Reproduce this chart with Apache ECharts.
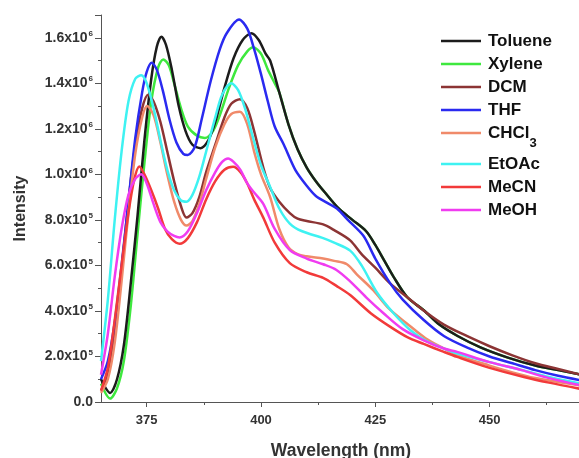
<!DOCTYPE html>
<html>
<head>
<meta charset="utf-8">
<script src="https://cdn.jsdelivr.net/npm/echarts@6/dist/echarts.min.js"></script>
<style>
  html, body { margin: 0; padding: 0; background: #fff; }
  #chart { width: 579px; height: 458px; }
</style>
</head>
<body>
<div id="chart"></div>
<script>
// intensity values are in units of 1e5, pairs are [wavelength nm, intensity]
const toluene = [
    [365, 1.0], [367, 0.4], [368.5, 1.0], [370, 2.5], [371.5, 5.2], [373, 8.2], [374.5, 11.5],
    [376, 14.2], [377.2, 15.6], [378.2, 16.05], [379.2, 15.7], [380.5, 14.6], [382, 13.0],
    [383.5, 11.9], [385, 11.3], [386.8, 11.15], [388.5, 11.5], [390, 12.3], [392, 13.8],
    [394, 15.1], [396, 15.9], [397.9, 16.2], [399.5, 15.9], [401, 15.3], [402, 15.0],
    [404, 13.6], [406, 12.2], [408, 11.1], [410, 10.3], [412, 9.7], [414, 9.2], [417, 8.5],
    [420, 8.0], [423, 7.5], [425, 6.9], [427, 6.2], [429, 5.5], [432, 4.6], [435.6, 4.03],
    [439, 3.4], [443, 2.9], [448, 2.4], [454, 1.95], [460, 1.6], [465, 1.4], [470, 1.2]
];
const xylene = [
    [365, 0.8], [367, 0.15], [368.5, 0.6], [370, 1.8], [371.5, 4.2], [373, 7.4], [374.5, 10.5],
    [376, 13.2], [377.5, 14.7], [378.6, 15.05], [379.8, 14.8], [381, 14.0], [382.5, 12.9],
    [384, 12.1], [386, 11.7], [387.7, 11.6], [389.5, 11.9], [391, 12.6], [393, 13.8],
    [395, 14.8], [397, 15.4], [398.3, 15.58], [400, 15.3], [401.5, 14.6], [403, 14.0],
    [404, 13.6], [406, 12.2], [408, 11.1], [410, 10.3], [412, 9.7], [414, 9.2], [417, 8.5],
    [420, 8.0], [423, 7.5], [425, 6.9], [427, 6.2], [429, 5.5], [432, 4.6], [435.6, 4.03],
    [439, 3.4], [443, 2.9], [448, 2.4], [454, 1.95], [460, 1.6], [465, 1.4], [470, 1.2]
];
const dcm = [
    [365, 0.5], [366.5, 1.2], [368, 3.0], [369.5, 5.8], [371, 8.8], [372.5, 11.3], [374, 12.9],
    [375.3, 13.5], [376.5, 13.2], [378, 12.3], [379.5, 11.0], [381, 9.7], [382.5, 8.6],
    [383.7, 8.1], [385, 8.3], [386.5, 9.0], [388, 10.1], [390, 11.3], [392, 12.5],
    [393.5, 13.1], [395.4, 13.3], [397, 12.9], [398.5, 11.9], [400.5, 10.3], [402, 9.4],
    [404, 8.8], [406.3, 8.3], [408, 8.05], [410, 7.95], [413.6, 7.8], [416, 7.55],
    [419.5, 7.1], [422, 6.5], [425, 5.9], [428.3, 5.2], [432, 4.6], [435.5, 4.03], [440, 3.4],
    [445, 2.9], [450, 2.45], [455, 2.05], [460, 1.7], [465, 1.45], [470, 1.2]
];
const thf = [
    [365, 1.0], [366.5, 1.8], [368, 3.5], [369.5, 6.0], [371, 8.8], [372.5, 11.6], [374, 13.6],
    [375, 14.5], [376.1, 14.9], [377.2, 14.6], [378.5, 13.7], [380, 12.4], [381.5, 11.4],
    [383, 10.9], [384, 10.85], [385.5, 11.2], [387, 12.4], [389, 14.1], [391, 15.5],
    [392.5, 16.2], [395.2, 16.8], [397, 16.4], [398.5, 15.5], [400, 14.4], [401.5, 13.2],
    [403, 12.1], [405, 11.3], [407.5, 10.2], [410, 9.5], [412, 9.05], [414.5, 8.75],
    [416.6, 8.5], [419, 8.0], [422.4, 7.3], [425, 6.3], [428.3, 5.2], [431, 4.5], [435.6, 3.6],
    [440, 2.9], [445, 2.4], [450, 2.0], [455, 1.7], [460, 1.4], [465, 1.15], [470, 0.95]
];
const chcl3 = [
    [365, 0.4], [366.5, 1.0], [368, 2.6], [369.5, 5.3], [371, 8.3], [372.5, 10.9], [374, 12.5],
    [375.1, 13.0], [376.5, 12.6], [378, 11.4], [379.5, 10.0], [381, 8.8], [382.5, 8.0],
    [383.7, 7.75], [385, 7.95], [386.5, 8.7], [388, 9.8], [390, 11.2], [392, 12.2],
    [393.5, 12.65], [395.4, 12.75], [397, 12.2], [398.5, 11.0], [400, 10.0], [402, 9.0],
    [404, 7.6], [406, 6.8], [408, 6.5], [410, 6.4], [413.6, 6.3], [416, 6.2], [418.8, 6.05],
    [421, 5.6], [424.6, 4.9], [428, 4.1], [431.9, 3.45], [436, 2.8], [440, 2.35], [443, 2.05],
    [450, 1.6], [455, 1.3], [460, 1.05], [465, 0.88], [470, 0.72]
];
const etoac = [
    [365, 1.8], [366.5, 4.5], [368, 8.0], [369.5, 11.0], [371, 13.2], [372.5, 14.2],
    [373.8, 14.35], [375, 14.0], [376.5, 12.9], [378, 11.5], [379.5, 10.2], [381, 9.3],
    [382.5, 8.85], [383.7, 8.8], [385, 9.1], [386.5, 9.9], [388, 11.0], [390, 12.5],
    [391.5, 13.5], [393.5, 14.0], [395, 13.7], [396.5, 12.9], [398, 11.8], [400, 10.4],
    [402, 9.45], [404, 8.5], [406.3, 7.84], [409, 7.5], [413.6, 7.2], [416, 7.0], [419.5, 6.65],
    [422, 6.0], [425.4, 4.8], [429, 3.9], [432.7, 3.15], [436, 2.7], [440, 2.35], [443, 2.13],
    [450, 1.75], [457.4, 1.39], [463, 1.1], [470, 0.8]
];
const mecn = [
    [365, 0.5], [366.5, 1.5], [368, 3.6], [369.5, 6.0], [371, 8.3], [372.3, 9.8], [373.4, 10.35],
    [374.5, 10.0], [376, 9.3], [377.5, 8.5], [379, 7.6], [380.5, 7.15], [382.2, 6.95],
    [384, 7.2], [386, 7.9], [388, 8.9], [390, 9.7], [392, 10.2], [393.9, 10.33], [395.5, 10.1],
    [397, 9.6], [398.5, 8.9], [400.5, 8.1], [403, 7.0], [406.3, 6.1], [410, 5.7], [413.6, 5.45],
    [416.5, 5.1], [419.5, 4.7], [424, 3.9], [428.3, 3.3], [432, 2.85], [435.6, 2.55], [440, 2.2],
    [442.9, 1.98], [450, 1.5], [457.5, 1.1], [463, 0.85], [470, 0.57]
];
const meoh = [
    [365, 1.2], [366.5, 3.0], [368, 5.5], [369.5, 7.6], [371, 9.1], [372.5, 9.8], [373.8, 10.0],
    [375, 9.6], [376.5, 8.7], [378, 7.9], [379.5, 7.5], [381, 7.3], [382.2, 7.23], [384, 7.5],
    [386, 8.3], [388, 9.3], [390, 10.1], [391.5, 10.55], [392.8, 10.7], [394, 10.55],
    [395.5, 10.2], [397, 9.6], [398.5, 9.2], [400.5, 8.7], [403, 7.6], [406.3, 6.67], [410, 6.3],
    [413.6, 6.05], [416.5, 5.8], [419.5, 5.3], [423, 4.6], [426.8, 3.9], [431, 3.2],
    [435.6, 2.71], [440, 2.35], [442.9, 2.2], [450, 1.75], [457, 1.4], [463, 1.05], [470, 0.73]
];

const names = ['Toluene', 'Xylene', 'DCM', 'THF', 'CHCl3', 'EtOAc', 'MeCN', 'MeOH'];
const colors = ['#1c1c1c', '#3ee83e', '#8c3434', '#2a2af0', '#f08a6a', '#3ef2f2', '#f23a3a', '#f03cf0'];
const spectra = [toluene, xylene, dcm, thf, chcl3, etoac, mecn, meoh];

const xLabels = [375, 400, 425, 450];
const xMinor = [387.5, 412.5, 437.5, 462.5];

// green drawn first so black sits on top of it
const drawOrder = [1, 0, 2, 3, 4, 5, 6, 7];

const FONT = 'Liberation Sans, Arial, sans-serif';

const yLabel = (v) => {
    if (v === 0) return '{m|0.0}';
    if (v >= 10) return `{m|${(v / 10).toFixed(1)}x10}{s|6}`;
    return `{m|${v.toFixed(1)}x10}{s|5}`;
};

const chart = echarts.init(document.getElementById('chart'));
chart.setOption({
    backgroundColor: '#fff',
    animation: false,
    grid: { left: 101, top: 15, bottom: 56, width: 480, outerBoundsMode: 'none', containLabel: false },
    legend: {
        orient: 'vertical',
        left: 441,
        top: 32,
        padding: 0,
        icon: 'rect',
        itemWidth: 40,
        itemHeight: 2.5,
        itemGap: 5,
        data: names,
        formatter: (n) => (n === 'CHCl3' ? 'CHCl{sub|3}' : n),
        textStyle: {
            fontFamily: FONT,
            fontWeight: 'bold',
            fontSize: 17,
            lineHeight: 18,
            color: '#111',
            padding: [0, 0, 0, 2],
            rich: {
                sub: { fontFamily: FONT, fontSize: 13, fontWeight: 'bold', color: '#111', padding: [21, 0, 0, 0] },
            },
        },
    },
    xAxis: [
        {
            type: 'value',
            min: 365,
            max: 470,
            name: 'Wavelength (nm)',
            nameLocation: 'middle',
            nameGap: 40,
            nameTextStyle: { fontFamily: FONT, fontWeight: 'bold', fontSize: 17.5, color: '#333' },
            axisLine: { lineStyle: { color: '#555', width: 1 } },
            axisTick: { customValues: xLabels, length: 5, lineStyle: { color: '#555' } },
            axisLabel: {
                customValues: xLabels,
                margin: 12,
                fontFamily: FONT,
                fontWeight: 'bold',
                fontSize: 13,
                color: '#333',
            },
            splitLine: { show: false },
        },
        {
            type: 'value',
            min: 365,
            max: 470,
            position: 'bottom',
            axisLine: { show: false },
            axisTick: { customValues: xMinor, length: 3, lineStyle: { color: '#555' } },
            axisLabel: { show: false },
            splitLine: { show: false },
        },
    ],
    yAxis: {
        type: 'value',
        min: 0,
        max: 17,
        interval: 2,
        name: 'Intensity',
        nameLocation: 'middle',
        nameGap: 72,
        nameTextStyle: { fontFamily: FONT, fontWeight: 'bold', fontSize: 16, color: '#333' },
        axisLine: { show: true, lineStyle: { color: '#555', width: 1 } },
        axisTick: { show: true, length: 6, lineStyle: { color: '#555' } },
        minorTick: { show: true, splitNumber: 2, length: 3, lineStyle: { color: '#555' } },
        splitLine: { show: false },
        axisLabel: {
            showMaxLabel: false,
            margin: 8,
            formatter: yLabel,
            rich: {
                m: { fontFamily: FONT, fontWeight: 'bold', fontSize: 14, color: '#333' },
                s: { fontFamily: FONT, fontWeight: 'bold', fontSize: 8, color: '#333', padding: [0, 0, 8, 1] },
            },
        },
    },
    series: drawOrder.map((i) => ({
        name: names[i],
        type: 'line',
        data: spectra[i],
        showSymbol: false,
        symbol: 'none',
        smooth: 0.3,
        clip: true,
        lineStyle: { color: colors[i], width: 2.5 },
        itemStyle: { color: colors[i] },
    })),
});
</script>
</body>
</html>
